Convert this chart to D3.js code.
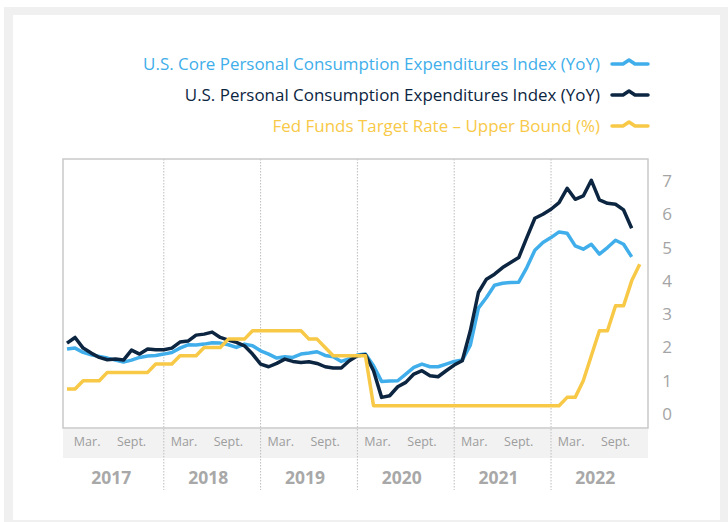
<!DOCTYPE html>
<html>
<head>
<meta charset="utf-8">
<script src="https://cdn.jsdelivr.net/npm/d3@7"></script>
<style>
  body { margin: 0; background: #fff; }
  svg { display: block; font-family: "Open Sans", "Noto Sans", sans-serif; }
</style>
</head>
<body>
<div id="container"></div>
<script>
let w = 728;
let h = 522;

// monthly data, Jan 2017 .. Dec 2022 (month index 0 = Jan 2017)
let years = ["2017", "2018", "2019", "2020", "2021", "2022"];
let monthTicks = [{label: "Mar.", pos: 2.5}, {label: "Sept.", pos: 8}];
let yTicks = [0, 1, 2, 3, 4, 5, 6, 7];

let corePce = [
  1.95, 1.98, 1.85, 1.78, 1.73, 1.68, 1.62, 1.56, 1.62, 1.70, 1.74, 1.76,
  1.80, 1.85, 1.98, 2.08, 2.07, 2.10, 2.14, 2.13, 2.08, 2.00, 2.10, 2.05,
  1.90, 1.80, 1.68, 1.72, 1.70, 1.80, 1.83, 1.87, 1.76, 1.72, 1.58, 1.66,
  1.77, 1.80, 1.45, 0.98, 0.99, 1.00, 1.20, 1.40, 1.50, 1.42, 1.42, 1.50,
  1.58, 1.62, 2.07, 3.18, 3.50, 3.87, 3.93, 3.95, 3.96, 4.40, 4.92, 5.15,
  5.30, 5.47, 5.43, 5.05, 4.95, 5.10, 4.80, 5.00, 5.22, 5.10, 4.72
];

let pce = [
  2.13, 2.30, 1.98, 1.83, 1.70, 1.63, 1.65, 1.62, 1.92, 1.80, 1.95, 1.93,
  1.93, 1.98, 2.16, 2.19, 2.37, 2.40, 2.46, 2.30, 2.22, 2.15, 2.05, 1.80,
  1.50, 1.42, 1.52, 1.65, 1.58, 1.55, 1.57, 1.52, 1.42, 1.38, 1.38, 1.60,
  1.75, 1.78, 1.30, 0.50, 0.55, 0.82, 0.95, 1.20, 1.30, 1.15, 1.12, 1.30,
  1.47, 1.60, 2.50, 3.65, 4.05, 4.20, 4.40, 4.55, 4.70, 5.30, 5.88, 6.00,
  6.15, 6.35, 6.78, 6.45, 6.55, 7.02, 6.43, 6.33, 6.30, 6.13, 5.58
];

let fedFunds = [
  0.75, 0.75, 1.00, 1.00, 1.00, 1.25, 1.25, 1.25, 1.25, 1.25, 1.25, 1.50,
  1.50, 1.50, 1.75, 1.75, 1.75, 2.00, 2.00, 2.00, 2.25, 2.25, 2.25, 2.50,
  2.50, 2.50, 2.50, 2.50, 2.50, 2.50, 2.25, 2.25, 2.00, 1.75, 1.75, 1.75,
  1.75, 1.75, 0.25, 0.25, 0.25, 0.25, 0.25, 0.25, 0.25, 0.25, 0.25, 0.25,
  0.25, 0.25, 0.25, 0.25, 0.25, 0.25, 0.25, 0.25, 0.25, 0.25, 0.25, 0.25,
  0.25, 0.25, 0.50, 0.50, 1.00, 1.75, 2.50, 2.50, 3.25, 3.25, 4.00, 4.50
];

let seriesNames = [
  "U.S. Core Personal Consumption Expenditures Index (YoY)",
  "U.S. Personal Consumption Expenditures Index (YoY)",
  "Fed Funds Target Rate \u2013 Upper Bound (%)"
];
let seriesColors = ["#40aeea", "#0c2541", "#f8c947"];

let plotLeft = 63, plotRight = 648, plotTop = 159, plotBottom = 428;

let viz = d3.select("#container")
  .append("svg")
    .attr("width", w)
    .attr("height", h);

// card background
viz.append("rect").attr("x", 4).attr("y", 7).attr("width", w - 4).attr("height", h - 7).attr("fill", "#f0f0f0");
viz.append("rect").attr("x", 13).attr("y", 15).attr("width", 707).attr("height", 505).attr("fill", "#fff");

let xScale = d3.scaleLinear().domain([0, 72]).range([67, 647.8]);
let yScale = d3.scaleLinear().domain([-0.42, 7.66]).range([plotBottom, plotTop]);

// month band under the plot
viz.append("rect")
  .attr("x", plotLeft).attr("y", plotBottom + 1)
  .attr("width", plotRight - plotLeft).attr("height", 29)
  .attr("fill", "#f2f2f2");

// year separators
viz.append("g").selectAll("line")
  .data(years.slice(1))
  .enter().append("line")
    .attr("x1", function(d, i){ return xScale((i + 1) * 12); })
    .attr("x2", function(d, i){ return xScale((i + 1) * 12); })
    .attr("y1", plotTop)
    .attr("y2", 490)
    .attr("stroke", "#bcbcbc")
    .attr("stroke-width", 1)
    .attr("stroke-dasharray", "1.5,1.5");

// frame
viz.append("rect")
  .attr("x", plotLeft).attr("y", plotTop)
  .attr("width", plotRight - plotLeft).attr("height", plotBottom - plotTop)
  .attr("fill", "none")
  .attr("stroke", "#c9c9c9")
  .attr("stroke-width", 1.5);

// month labels and year labels
let monthGroup = viz.append("g");
years.forEach(function(y, i){
  monthTicks.forEach(function(t){
    monthGroup.append("text")
      .attr("x", xScale(i * 12 + t.pos))
      .attr("y", 446)
      .attr("text-anchor", "middle")
      .attr("font-size", 12.5)
      .attr("fill", "#9d9d9d")
      .text(t.label);
  });
  monthGroup.append("text")
    .attr("x", xScale(i * 12 + 5.5))
    .attr("y", 484)
    .attr("text-anchor", "middle")
    .attr("font-size", 17.5)
    .attr("font-weight", "bold")
    .attr("fill", "#a8a8a8")
    .text(y);
});

// right y axis labels
viz.append("g").selectAll("text")
  .data(yTicks)
  .enter().append("text")
    .attr("x", 667)
    .attr("y", function(d){ return yScale(d) + 6; })
    .attr("text-anchor", "middle")
    .attr("font-size", 17)
    .attr("fill", "#a4a4a4")
    .text(function(d){ return d; });

// lines
let line = d3.line()
  .x(function(d, i){ return xScale(i); })
  .y(function(d){ return yScale(d); });

let allSeries = [corePce, pce, fedFunds];
viz.append("g").selectAll("path")
  .data(allSeries)
  .enter().append("path")
    .attr("d", line)
    .attr("fill", "none")
    .attr("stroke", function(d, i){ return seriesColors[i]; })
    .attr("stroke-width", 3.5)
    .attr("stroke-linejoin", "round");

// legend, first line sized to span about 457px like the original
let legend = viz.append("g");
let legendSize = 17;
let probe = legend.append("text").attr("font-size", legendSize).text(seriesNames[0]);
legendSize = legendSize * 457 / probe.node().getComputedTextLength();
probe.remove();

seriesNames.forEach(function(name, i){
  let cy = 64 + i * 31;
  legend.append("text")
    .attr("x", 600)
    .attr("y", cy + 6)
    .attr("text-anchor", "end")
    .attr("font-size", legendSize)
    .attr("fill", seriesColors[i])
    .text(name);
  legend.append("path")
    .attr("d", "M612," + cy + "L623," + cy + "L629," + (cy - 4) + "L635," + cy + "L648," + cy)
    .attr("fill", "none")
    .attr("stroke", seriesColors[i])
    .attr("stroke-width", 3.5)
    .attr("stroke-linecap", "round")
    .attr("stroke-linejoin", "round");
});
</script>
</body>
</html>
